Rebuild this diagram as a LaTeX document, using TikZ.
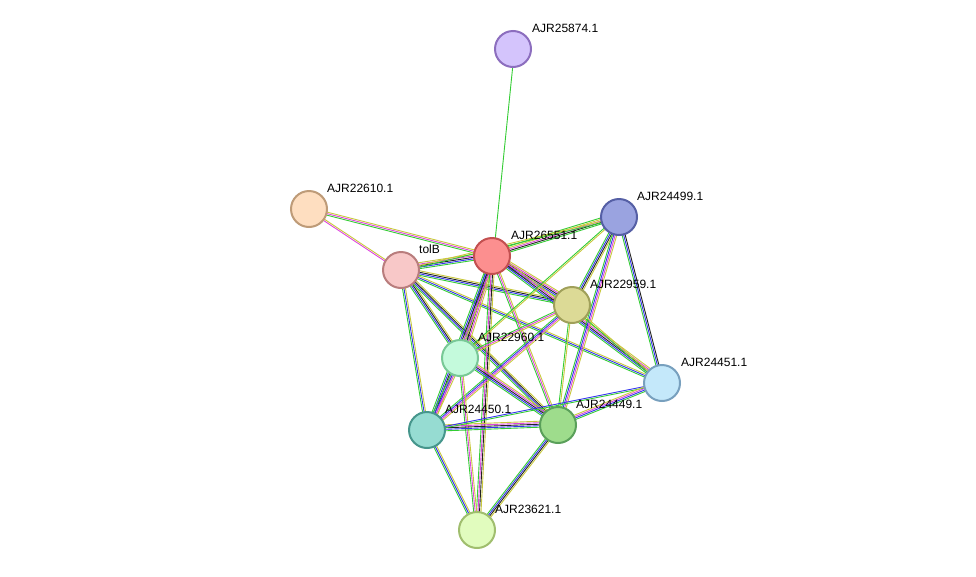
\documentclass[tikz,border=0pt]{standalone}
\usepackage{fontspec}
\setmainfont{Liberation Sans}
\usetikzlibrary{calc}
\definecolor{eg}{HTML}{33CC33}
\definecolor{eb}{HTML}{3333EE}
\definecolor{ek}{HTML}{222222}
\definecolor{em}{HTML}{DD44DD}
\definecolor{ey}{HTML}{C8C83C}
\tikzset{
  prot/.style={circle,minimum size=36pt,inner sep=0pt,line width=2pt},
  lab/.style={anchor=west,font=\fontsize{12pt}{14pt}\selectfont,inner sep=0pt},
}
\newcommand{\sedge}[3]{%
  \foreach \c [count=\i] in {#3} {%
    \pgfmathsetmacro{\off}{(\i-1)*1.5-1.5}%
    \draw[\c,line width=0.9pt] ($(#1)!\off pt!90:(#2)$) -- ($(#2)!\off pt!-90:(#1)$);
  }}
\begin{document}
\begin{tikzpicture}[x=1pt,y=-1pt]
\useasboundingbox (0,0) rectangle (976,576);
\coordinate (n1) at (513,49);
\coordinate (n2) at (309,209);
\coordinate (n3) at (619,217);
\coordinate (n4) at (492,256);
\coordinate (n5) at (401,270);
\coordinate (n6) at (572,305);
\coordinate (n7) at (460,358);
\coordinate (n8) at (662,383);
\coordinate (n9) at (427,430);
\coordinate (n10) at (558,425);
\coordinate (n11) at (477,530);
\sedge{n4}{n1}{eg}
\sedge{n2}{n4}{eg,em,ey}
\sedge{n2}{n5}{em,ey}
\sedge{n4}{n3}{eg,ek,em,ey,eg}
\sedge{n5}{n4}{eg,eb,ek,em,ey}
\sedge{n5}{n3}{eg,ey}
\sedge{n5}{n6}{eg,eb,ek,ey}
\sedge{n5}{n7}{eg,eb,ek,ey}
\sedge{n5}{n9}{eg,eb,ey}
\sedge{n5}{n10}{eg,eb,ek,ey}
\sedge{n5}{n8}{eg,eb,ey}
\sedge{n4}{n6}{eg,eb,ek,em,ey}
\sedge{n4}{n7}{eg,eb,ek,em,ey}
\sedge{n4}{n9}{eg,eb,ek,em,ey}
\sedge{n4}{n10}{eg,em,ey}
\sedge{n4}{n11}{eg,em,ek,ey}
\sedge{n4}{n8}{eg,eb,ek,em,ey}
\sedge{n3}{n6}{eg,eb,ek,ey}
\sedge{n3}{n7}{eg,ey}
\sedge{n3}{n8}{eg,eb,ek}
\sedge{n3}{n10}{eg,eb,em,ey}
\sedge{n6}{n7}{eg,em,ey}
\sedge{n6}{n9}{eg,eb,em,ey}
\sedge{n6}{n10}{eg,ey}
\sedge{n6}{n8}{eg,ey}
\sedge{n7}{n9}{eg,eb,em,ey}
\sedge{n7}{n10}{eg,eb,ek,em,ey}
\sedge{n7}{n11}{eg,em,ey}
\sedge{n9}{n10}{eg,eb,ek,em,ey}
\sedge{n9}{n11}{eg,eb,ey}
\sedge{n9}{n8}{eg,eb}
\sedge{n10}{n11}{eg,eb,ek,ey}
\sedge{n10}{n8}{eg,eb,em,ey}
\node[prot,draw={rgb,255:red,140;green,110;blue,190},fill={rgb,255:red,212;green,196;blue,252}] (a1) at (n1) {};
\node[prot,draw={rgb,255:red,190;green,155;blue,120},fill={rgb,255:red,254;green,222;blue,192}] (a2) at (n2) {};
\node[prot,draw={rgb,255:red,85;green,95;blue,165},fill={rgb,255:red,154;green,163;blue,224}] (a3) at (n3) {};
\node[prot,draw={rgb,255:red,195;green,80;blue,80},fill={rgb,255:red,252;green,143;blue,143}] (a4) at (n4) {};
\node[prot,draw={rgb,255:red,185;green,125;blue,125},fill={rgb,255:red,248;green,200;blue,200}] (a5) at (n5) {};
\node[prot,draw={rgb,255:red,160;green,160;blue,90},fill={rgb,255:red,220;green,218;blue,150}] (a6) at (n6) {};
\node[prot,draw={rgb,255:red,120;green,200;blue,150},fill={rgb,255:red,196;green,250;blue,220}] (a7) at (n7) {};
\node[prot,draw={rgb,255:red,120;green,160;blue,190},fill={rgb,255:red,196;green,232;blue,250}] (a8) at (n8) {};
\node[prot,draw={rgb,255:red,70;green,150;blue,140},fill={rgb,255:red,150;green,220;blue,210}] (a9) at (n9) {};
\node[prot,draw={rgb,255:red,90;green,160;blue,90},fill={rgb,255:red,158;green,220;blue,140}] (a10) at (n10) {};
\node[prot,draw={rgb,255:red,160;green,190;blue,110},fill={rgb,255:red,225;green,252;blue,190}] (a11) at (n11) {};
\node[lab] (l1) at ($(n1)+(19,-21)$) {AJR25874.1};
\node[lab] (l2) at ($(n2)+(18,-21)$) {AJR22610.1};
\node[lab] (l3) at ($(n3)+(18,-21)$) {AJR24499.1};
\node[lab] (l4) at ($(n4)+(19,-21)$) {AJR26551.1};
\node[lab] (l5) at ($(n5)+(18,-21)$) {tolB};
\node[lab] (l6) at ($(n6)+(18,-21)$) {AJR22959.1};
\node[lab] (l7) at ($(n7)+(18,-21)$) {AJR22960.1};
\node[lab] (l8) at ($(n8)+(19,-21)$) {AJR24451.1};
\node[lab] (l9) at ($(n9)+(18,-21)$) {AJR24450.1};
\node[lab] (l10) at ($(n10)+(18,-21)$) {AJR24449.1};
\node[lab] (l11) at ($(n11)+(18,-21)$) {AJR23621.1};
\end{tikzpicture}
\end{document}
